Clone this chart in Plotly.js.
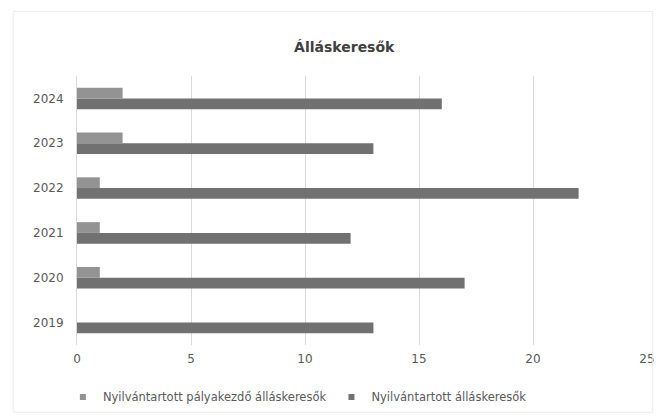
<!DOCTYPE html>
<html>
<head>
<meta charset="utf-8">
<script src="https://cdn.plot.ly/plotly-3.0.1.min.js"></script>
<style>
html,body{margin:0;padding:0;background:#fff;}
#chart{width:662px;height:417px;}
</style>
</head>
<body>
<div id="chart"></div>
<script>
const years = ['2019','2020','2021','2022','2023','2024'];
const palyakezdo = [0, 1, 1, 1, 2, 2];
const allaskeresok = [13, 17, 12, 22, 13, 16];
const seriesNames = ['Nyilvántartott pályakezdő álláskeresők', 'Nyilvántartott álláskeresők'];
const seriesColors = ['#939393', '#717171'];
const xTicks = [0, 5, 10, 15, 20, 25];

const font = '"DejaVu Sans", "Liberation Sans", sans-serif';

const data = [
  {
    type: 'bar', orientation: 'h',
    y: years, x: allaskeresok, name: seriesNames[1],
    marker: {color: seriesColors[1]},
    showlegend: false, legendgroup: 'b'
  },
  {
    type: 'bar', orientation: 'h',
    y: years, x: palyakezdo, name: seriesNames[0],
    marker: {color: seriesColors[0]},
    showlegend: false, legendgroup: 'a'
  },
  // legend-only entries with small square swatches
  {
    type: 'scatter', mode: 'markers', x: [null], y: [null],
    name: seriesNames[0], legendgroup: 'a',
    marker: {symbol: 'square', size: 6, color: seriesColors[0]}
  },
  {
    type: 'scatter', mode: 'markers', x: [null], y: [null],
    name: seriesNames[1], legendgroup: 'b',
    marker: {symbol: 'square', size: 6, color: seriesColors[1]}
  }
];

const layout = {
  width: 662, height: 417,
  margin: {l: 77, r: 15, t: 76, b: 72},
  paper_bgcolor: '#fff', plot_bgcolor: '#fff',
  title: {
    text: '<b>Álláskeresők</b>',
    font: {family: font, size: 14, color: '#404040'},
    x: 0.52, xanchor: 'center', y: 0.887, yanchor: 'middle'
  },
  barmode: 'group',
  bargap: 0.52,
  bargroupgap: 0,
  showlegend: true,
  legend: {
    orientation: 'h', traceorder: 'normal',
    xref: 'container', yref: 'container',
    x: 0.095, xanchor: 'left', y: 0.083, yanchor: 'top',
    itemwidth: 30,
    font: {family: font, size: 11.5, color: '#595959'}
  },
  xaxis: {
    range: [0, 25],
    tickvals: xTicks,
    ticktext: xTicks.map(String),
    showgrid: true, gridcolor: '#d9d9d9', gridwidth: 1,
    zeroline: false, showline: false,
    ticks: '', ticklabelstandoff: 5,
    tickfont: {family: font, size: 12, color: '#595959'},
    fixedrange: true
  },
  yaxis: {
    type: 'category',
    categoryorder: 'array', categoryarray: years,
    showgrid: false, zeroline: false,
    showline: true, linecolor: '#d9d9d9', linewidth: 1,
    ticks: '', ticklabelstandoff: 10,
    tickfont: {family: font, size: 12, color: '#595959'},
    fixedrange: true
  },
  shapes: [{
    type: 'rect', xref: 'paper', yref: 'paper',
    x0: -0.112, x1: 1.01, y0: -0.25, y1: 1.24,
    line: {color: '#ececec', width: 1}
  }]
};

Plotly.newPlot('chart', data, layout, {displayModeBar: false, staticPlot: true});
</script>
</body>
</html>
